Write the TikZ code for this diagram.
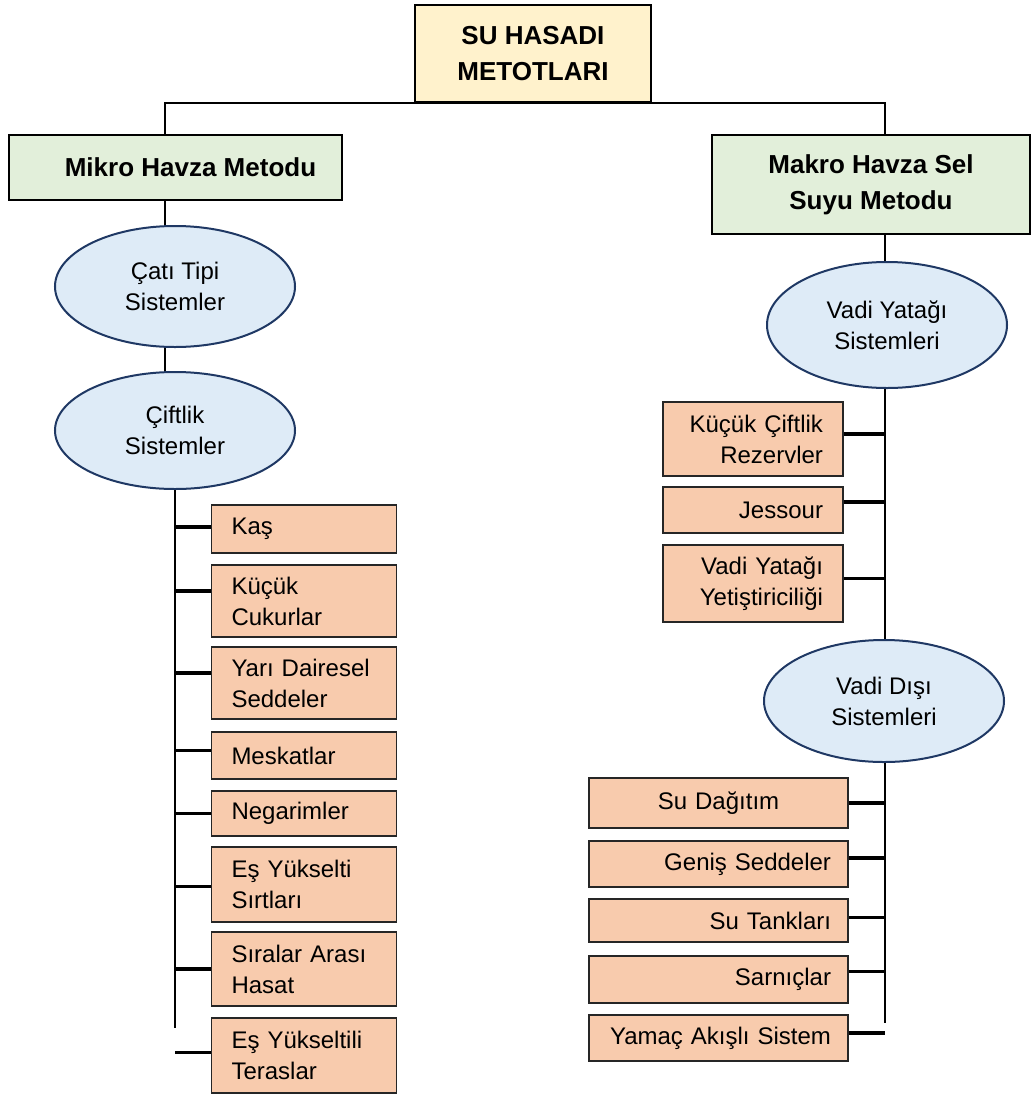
\documentclass[tikz,border=0pt]{standalone}
\usepackage{fontspec}
\setmainfont{Liberation Sans}
\usepackage{tikz}
\usetikzlibrary{shapes.geometric, positioning}
\definecolor{titleyellow}{HTML}{FFF2CC}
\definecolor{methodgreen}{HTML}{E2EFDA}
\definecolor{systemblue}{HTML}{DEEBF7}
\definecolor{systemline}{HTML}{1F3864}
\definecolor{itemorange}{HTML}{F8CBAD}
\definecolor{itemline}{HTML}{262626}

\begin{document}
\begin{tikzpicture}[x=1pt, y=-1pt,
	titlebox/.style={draw=black, line width=2pt, fill=titleyellow, inner sep=0pt, align=center, font=\bfseries\fontsize{26}{36}\selectfont},
	methodbox/.style={draw=black, line width=2pt, fill=methodgreen, inner sep=0pt, align=center, font=\bfseries\fontsize{26}{36}\selectfont},
	systemell/.style={ellipse, draw=systemline, line width=2pt, fill=systemblue, minimum width=240pt, inner sep=0pt, align=center, font=\fontsize{24}{31}\selectfont},
	itembox/.style={draw=itemline, line width=1.5pt, fill=itemorange, inner xsep=20pt, inner ysep=0pt, font=\fontsize{24}{31}\selectfont},
	leftitem/.style={itembox, text width=145pt, align=left},
	rightitem/.style={itembox, text width=140pt, align=right},
	wideitem/.style={itembox, inner xsep=17pt, text width=225pt, align=right},
	linkline/.style={line width=2pt},
	spine/.style={line width=2.5pt},
	branch/.style={line width=3.5pt}]
	
	\useasboundingbox (0,0) rectangle (1032,1095);
	
	% Top and methods
	\node[titlebox, minimum width=236pt, minimum height=97pt] (hasat) at (533,53.5) {SU HASADI\\METOTLARI};
	\node[methodbox, minimum width=333pt, minimum height=65pt] (mikro) at (175.5,167.5) {\hspace*{30pt}Mikro Havza Metodu};
	\node[methodbox, minimum width=318pt, minimum height=99pt] (makro) at (871,184.5) {Makro Havza Sel\\Suyu Metodu};
	
	% Systems
	\node[systemell, minimum height=121pt] (cati) at (175,286.5) {Çatı Tipi\\Sistemler};
	\node[systemell, minimum height=117pt] (ciftlik) at (175,430.5) {Çiftlik\\Sistemler};
	\node[systemell, minimum height=126pt] (vadiyatagi) at (887,325) {Vadi Yatağı\\Sistemleri};
	\node[systemell, minimum height=122pt] (vadidisi) at (884,701) {Vadi Dışı\\Sistemleri};
	
	% Items under Ciftlik Sistemler
	\node[leftitem, minimum height=48pt] (kas) at (304,529) {Kaş};
	\node[leftitem, minimum height=72pt] (kucuk) at (304,601) {Küçük\\Cukurlar};
	\node[leftitem, minimum height=72pt] (yari) at (304,683) {Yarı Dairesel\\Seddeler};
	\node[leftitem, minimum height=47pt] (meskat) at (304,755.5) {Meskatlar};
	\node[leftitem, minimum height=45pt] (negarim) at (304,813.5) {Negarimler};
	\node[leftitem, minimum height=75pt] (sirt) at (304,884.5) {Eş Yükselti\\Sırtları};
	\node[leftitem, minimum height=74pt] (siralar) at (304,969) {Sıralar Arası\\Hasat};
	\node[leftitem, minimum height=75pt] (teras) at (304,1055.5) {Eş Yükseltili\\Teraslar};
	
	% Items under Vadi Yatagi Sistemleri
	\node[rightitem, minimum height=74pt] (rezerv) at (753,439) {Küçük Çiftlik\\Rezervler};
	\node[rightitem, minimum height=46pt] (jessour) at (753,510) {Jessour};
	\node[rightitem, minimum height=77pt] (yetistir) at (753,583.5) {Vadi Yatağı\\Yetiştiriciliği};
	
	% Items under Vadi Disi Sistemleri
	\node[wideitem, minimum height=50pt, align=center] (dagitim) at (718.5,803) {Su Dağıtım};
	\node[wideitem, minimum height=46pt] (genis) at (718.5,864) {Geniş Seddeler};
	\node[wideitem, minimum height=43pt] (tank) at (718.5,920.5) {Su Tankları};
	\node[wideitem, minimum height=47pt] (sarnic) at (718.5,979.5) {Sarnıçlar};
	\node[wideitem, minimum height=46pt] (yamac) at (718.5,1038) {Yamaç Akışlı Sistem};
	
	% Trunk points
	\coordinate (lx) at (165,0);
	\coordinate (rx) at (885,0);
	\coordinate (lend) at (175,1028);
	\coordinate (rend) at (885,1023);
	
	% Edges
	\draw[linkline] (mikro.north -| lx) |- (hasat.south) -| (makro.north -| rx);
	\draw[linkline] (mikro.south -| lx) -- (cati.north -| lx);
	\draw[linkline] (cati.south -| lx) -- (ciftlik.north -| lx);
	\draw[spine] (ciftlik.south) -- (lend);
	\draw[linkline] (makro.south -| rx) -- (vadiyatagi.north -| rx);
	\draw[spine] (vadiyatagi.south -| rx) -- (vadidisi.north -| rx);
	\draw[spine] (vadidisi.south -| rx) -- (rend);
	
	% Branches left
	\draw[branch] ([yshift=2pt]kas.west) -- ([yshift=2pt]kas.west -| lend);
	\draw[branch] ([yshift=10pt]kucuk.west) -- ([yshift=10pt]kucuk.west -| lend);
	\draw[branch] ([yshift=10pt]yari.west) -- ([yshift=10pt]yari.west -| lend);
	\draw[branch] ([yshift=5pt]meskat.west) -- ([yshift=5pt]meskat.west -| lend);
	\draw[branch] (negarim.west) -- (negarim.west -| lend);
	\draw[branch] ([yshift=-2pt]sirt.west) -- ([yshift=-2pt]sirt.west -| lend);
	\draw[branch] (siralar.west) -- (siralar.west -| lend);
	\draw[branch] ([yshift=3pt]teras.west) -- ([yshift=3pt]teras.west -| lend);
	
	% Branches right
	\draw[branch] ([yshift=5pt]rezerv.east) -- ([yshift=5pt]rezerv.east -| rx);
	\draw[branch] ([yshift=8pt]jessour.east) -- ([yshift=8pt]jessour.east -| rx);
	\draw[branch] ([yshift=5pt]yetistir.east) -- ([yshift=5pt]yetistir.east -| rx);
	\draw[branch] (dagitim.east) -- (dagitim.east -| rx);
	\draw[branch] ([yshift=6pt]genis.east) -- ([yshift=6pt]genis.east -| rx);
	\draw[branch] ([yshift=3pt]tank.east) -- ([yshift=3pt]tank.east -| rx);
	\draw[branch] ([yshift=8pt]sarnic.east) -- ([yshift=8pt]sarnic.east -| rx);
	\draw[branch] ([yshift=5pt]yamac.east) -- ([yshift=5pt]yamac.east -| rx);
	
\end{tikzpicture}
\end{document}
